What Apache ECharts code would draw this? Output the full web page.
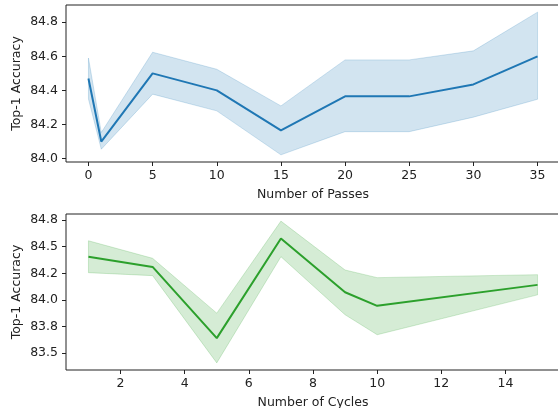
<!DOCTYPE html>
<html>
<head>
<meta charset="utf-8">
<script src="https://cdn.jsdelivr.net/npm/echarts@6/dist/echarts.min.js"></script>
<style>
html,body{margin:0;padding:0;background:#fff;}
#c{width:558px;height:408px;}
</style>
</head>
<body>
<div id="c"></div>
<script>
// Top panel: Number of Passes
var passesX = [0, 1, 5, 10, 15, 20, 25, 30, 35];
var passesMean = [84.47, 84.10, 84.50, 84.40, 84.165, 84.365, 84.365, 84.435, 84.60];
var passesLow = [84.35, 84.055, 84.378, 84.28, 84.022, 84.158, 84.158, 84.243, 84.348];
var passesHigh = [84.59, 84.153, 84.624, 84.524, 84.309, 84.579, 84.579, 84.632, 84.859];
var passesXTicks = [0, 5, 10, 15, 20, 25, 30, 35];
var passesYTicks = [84.0, 84.2, 84.4, 84.6, 84.8];
var passesYLabels = ['84.0', '84.2', '84.4', '84.6', '84.8'];

// Bottom panel: Number of Cycles
var cyclesX = [1, 3, 5, 7, 9, 10, 15];
var cyclesMean = [84.406, 84.31, 83.64, 84.578, 84.072, 83.944, 84.141];
var cyclesLow = [84.256, 84.228, 83.407, 84.406, 83.86, 83.672, 84.047];
var cyclesHigh = [84.556, 84.391, 83.875, 84.741, 84.281, 84.209, 84.237];
var cyclesXTicks = [2, 4, 6, 8, 10, 12, 14];
var cyclesYTicks = [83.5, 83.75, 84.0, 84.25, 84.5, 84.75];
var cyclesYLabels = ['83.5', '83.8', '84.0', '84.2', '84.5', '84.8'];

var FONT = 'DejaVu Sans';
var TXT = '#222';
var FS = 12.5;

function rows(xs, lo, hi) {
  return xs.map(function (x, i) { return [x, lo[i], hi[i]]; });
}
function pairs(xs, ys) {
  return xs.map(function (x, i) { return [x, ys[i]]; });
}
function bandSeries(idx, xs, lo, hi, rgb) {
  return {
    type: 'custom',
    xAxisIndex: idx, yAxisIndex: idx,
    data: rows(xs, lo, hi),
    encode: { x: 0, y: [1, 2] },
    silent: true,
    z: 1,
    renderItem: function (params, api) {
      if (params.dataIndex !== 0) return null;
      var pts = [];
      var i;
      for (i = 0; i < xs.length; i++) pts.push(api.coord([xs[i], hi[i]]));
      for (i = xs.length - 1; i >= 0; i--) pts.push(api.coord([xs[i], lo[i]]));
      return {
        type: 'polygon',
        shape: { points: pts },
        style: {
          fill: 'rgba(' + rgb + ',0.2)',
          stroke: 'rgba(' + rgb + ',0.2)',
          lineWidth: 1
        }
      };
    }
  };
}
function lineSeries(idx, xs, ys, color) {
  return {
    type: 'line',
    xAxisIndex: idx, yAxisIndex: idx,
    data: pairs(xs, ys),
    showSymbol: false,
    symbol: 'none',
    lineStyle: { color: color, width: 2 },
    z: 3,
    silent: true,
    animation: false
  };
}
function xAxisOpt(idx, min, max, ticks, name) {
  return {
    type: 'value', gridIndex: idx, min: min, max: max,
    name: name, nameLocation: 'middle', nameGap: 26, nameMoveOverlap: false,
    nameTextStyle: { fontFamily: FONT, fontSize: FS, color: TXT },
    axisLine: { show: false, onZero: false },
    splitLine: { show: false },
    axisTick: { show: true, length: 4, customValues: ticks, lineStyle: { color: TXT, width: 1 } },
    axisLabel: { customValues: ticks, margin: 7, fontFamily: FONT, fontSize: FS, color: TXT,
      formatter: function (v) { return String(v); } }
  };
}
function yAxisOpt(idx, min, max, ticks, labels) {
  return {
    type: 'value', gridIndex: idx, min: min, max: max,
    name: 'Top-1 Accuracy', nameLocation: 'middle', nameGap: 43, nameRotate: 90, nameMoveOverlap: false,
    nameTextStyle: { fontFamily: FONT, fontSize: FS, color: TXT },
    axisLine: { show: false, onZero: false },
    splitLine: { show: false },
    axisTick: { show: true, length: 4, customValues: ticks, lineStyle: { color: TXT, width: 1 } },
    axisLabel: { customValues: ticks, margin: 8, fontFamily: FONT, fontSize: FS, color: TXT,
      formatter: function (v) {
        for (var i = 0; i < ticks.length; i++) {
          if (Math.abs(ticks[i] - v) < 1e-6) return labels[i];
        }
        return '';
      } }
  };
}

var chart = echarts.init(document.getElementById('c'), null, { renderer: 'canvas' });
chart.setOption({
  animation: false,
  backgroundColor: '#fff',
  grid: [
    { left: 66, right: -2, top: 5, bottom: 246, outerBoundsMode: 'none', containLabel: false,
      show: true, borderColor: TXT, borderWidth: 1, backgroundColor: 'transparent' },
    { left: 66, right: -2, top: 214, bottom: 38, outerBoundsMode: 'none', containLabel: false,
      show: true, borderColor: TXT, borderWidth: 1, backgroundColor: 'transparent' }
  ],
  xAxis: [
    xAxisOpt(0, -1.75, 36.75, passesXTicks, 'Number of Passes'),
    xAxisOpt(1, 0.3, 15.7, cyclesXTicks, 'Number of Cycles')
  ],
  yAxis: [
    yAxisOpt(0, 83.98, 84.901, passesYTicks, passesYLabels),
    yAxisOpt(1, 83.34, 84.808, cyclesYTicks, cyclesYLabels)
  ],
  series: [
    bandSeries(0, passesX, passesLow, passesHigh, '31,119,180'),
    lineSeries(0, passesX, passesMean, '#1f77b4'),
    bandSeries(1, cyclesX, cyclesLow, cyclesHigh, '44,160,44'),
    lineSeries(1, cyclesX, cyclesMean, '#2ca02c')
  ]
});
</script>
</body>
</html>
